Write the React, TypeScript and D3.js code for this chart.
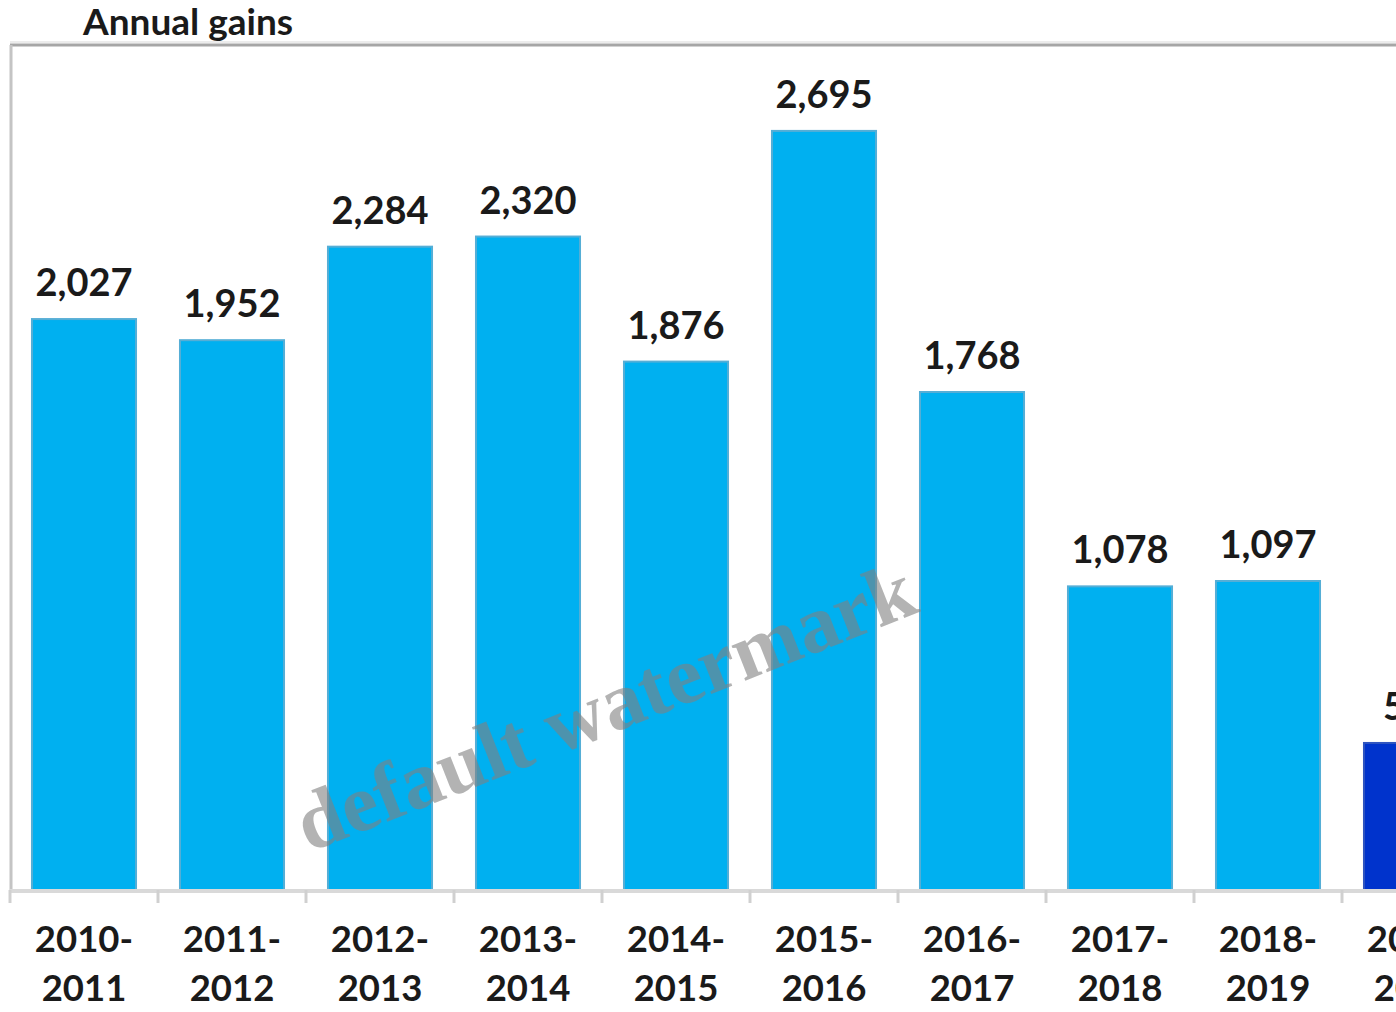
import React from "react";
import * as d3 from "d3";

const categories = [
  "2010-2011", "2011-2012", "2012-2013", "2013-2014", "2014-2015",
  "2015-2016", "2016-2017", "2017-2018", "2018-2019", "2019-2020",
];
const values = [2027, 1952, 2284, 2320, 1876, 2695, 1768, 1078, 1097, 522];
const highlighted = ["2019-2020"];
const title = "Annual gains";
const watermark = "default watermark";

const W = 1396;
const H = 1012;
const left = 10;
const step = 148;
const top = 45;
const base = 890;

export default function App() {
  const x = d3
    .scaleBand<string>()
    .domain(categories)
    .range([left, left + step * categories.length])
    .paddingInner(0.297)
    .paddingOuter(0.1485);
  const y = d3.scaleLinear().domain([0, 3000]).range([base, top]);
  const fmt = d3.format(",");
  const font = "Lato, 'Open Sans', sans-serif";

  return (
    <svg
      width={W}
      height={H}
      style={{ position: "absolute", left: 0, top: 0, background: "#fff" }}
    >
      {/* frame */}
      <line x1={left} x2={W} y1={top - 3} y2={top - 3} stroke="#ececec" strokeWidth={2} />
      <line x1={left} x2={W} y1={top} y2={top} stroke="#a6a6a6" strokeWidth={3} />
      <line x1={left + 1} x2={left + 1} y1={top} y2={base} stroke="#c4c4c4" strokeWidth={3} />

      {/* bars */}
      {categories.map((c, i) => {
        const hi = highlighted.includes(c);
        const bx = x(c)!;
        return (
          <rect
            key={c}
            x={bx}
            y={y(values[i])}
            width={x.bandwidth()}
            height={base - y(values[i])}
            fill={hi ? "#0033CC" : "#00B0F0"}
            stroke={hi ? "#2f55c0" : "#55aed6"}
            strokeWidth={2}
          />
        );
      })}

      {/* baseline and ticks */}
      <line x1={left} x2={W} y1={base + 1} y2={base + 1} stroke="#d9d9d9" strokeWidth={4} />
      {d3.range(categories.length + 1).map((i) => (
        <line
          key={i}
          x1={left + i * step}
          x2={left + i * step}
          y1={base}
          y2={base + 13}
          stroke="#d0d0d0"
          strokeWidth={3}
        />
      ))}

      {/* value labels */}
      {categories.map((c, i) => (
        <text
          key={c}
          x={x(c)! + x.bandwidth() / 2}
          y={y(values[i]) - 23}
          textAnchor="middle"
          fontFamily={font}
          fontWeight={700}
          fontSize={38}
          fill="#1a1a1a"
        >
          {fmt(values[i])}
        </text>
      ))}

      {/* category labels */}
      {categories.map((c) => {
        const [a, b] = c.split("-");
        const cx = x(c)! + x.bandwidth() / 2;
        return (
          <text
            key={c}
            textAnchor="middle"
            fontFamily={font}
            fontWeight={700}
            fontSize={36.5}
            fill="#1a1a1a"
          >
            <tspan x={cx} y={952}>{a + "-"}</tspan>
            <tspan x={cx} y={1001}>{b}</tspan>
          </text>
        );
      })}

      {/* title */}
      <text x={83} y={35} fontFamily={font} fontWeight={700} fontSize={37} fill="#1a1a1a">
        {title}
      </text>

      {/* watermark */}
      <text
        transform="translate(615,732) rotate(-21.5)"
        textAnchor="middle"
        fontFamily="'Liberation Serif', 'DejaVu Serif', serif"
        fontWeight={700}
        fontSize={82}
        fill="#808080"
        fillOpacity={0.6}
      >
        {watermark}
      </text>
    </svg>
  );
}
